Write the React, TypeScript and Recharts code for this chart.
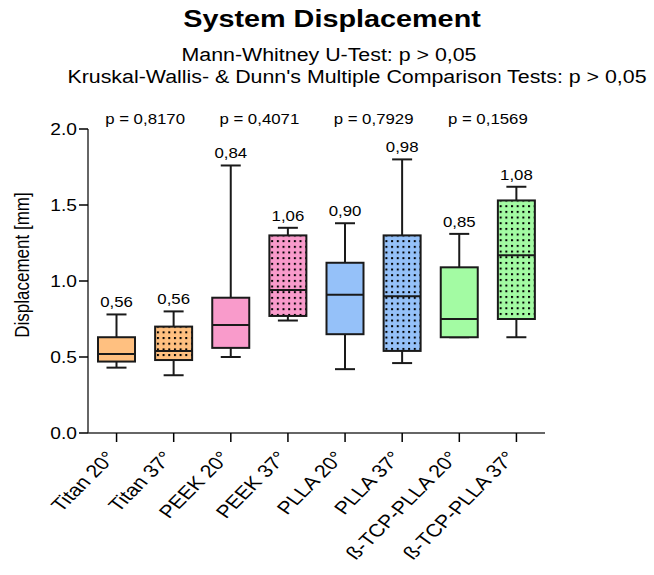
import { ComposedChart, Bar, XAxis, YAxis } from 'recharts'

// values
const categories = [
  'Titan 20°',
  'Titan 37°',
  'PEEK 20°',
  'PEEK 37°',
  'PLLA 20°',
  'PLLA 37°',
  'ß-TCP-PLLA 20°',
  'ß-TCP-PLLA 37°',
]
const whiskerLow = [0.43, 0.38, 0.5, 0.74, 0.42, 0.46, 0.63, 0.63]
const quartile1 = [0.47, 0.48, 0.56, 0.77, 0.65, 0.54, 0.63, 0.75]
const medians = [0.52, 0.54, 0.71, 0.94, 0.91, 0.9, 0.75, 1.17]
const quartile3 = [0.63, 0.7, 0.89, 1.3, 1.12, 1.3, 1.09, 1.53]
const whiskerHigh = [0.78, 0.8, 1.76, 1.35, 1.38, 1.8, 1.31, 1.62]
const meanLabels = ['0,56', '0,56', '0,84', '1,06', '0,90', '0,98', '0,85', '1,08']
const pValues = ['p = 0,8170', 'p = 0,4071', 'p = 0,7929', 'p = 0,1569']
const yTicks = [0, 0.5, 1, 1.5, 2]

const boxColors = ['#FFC080', '#FFC080', '#F99BCB', '#F99BCB', '#95C1F9', '#95C1F9', '#A3FBA3', '#A3FBA3']

const FONT = 'Arial, "Liberation Sans", Helvetica, sans-serif'
const SX = 1.2 // the reference is stretched horizontally
const CHART_W = 654
const CHART_H = 575
const MARGIN = { top: 129, right: 109, bottom: 0, left: 0 }
const Y_AXIS_W = 88
const BAND = (CHART_W - MARGIN.left - MARGIN.right - Y_AXIS_W) / categories.length
const INK = '#1a1a1a'

const data = categories.map((name, i) => ({
  name,
  low: whiskerLow[i],
  q1: quartile1[i],
  median: medians[i],
  q3: quartile3[i],
  high: whiskerHigh[i],
  mean: meanLabels[i],
  pLabel: i % 2 === 0 ? pValues[i / 2] : '',
  dotted: i % 2 === 1,
  color: boxColors[i],
}))

function SText({ x, y, size, anchor = 'middle', weight = 'normal', children }: any) {
  return (
    <text
      transform={`translate(${x},${y}) scale(${SX},1)`}
      textAnchor={anchor}
      fontSize={size}
      fontFamily={FONT}
      fontWeight={weight}
      fill="#000"
    >
      {children}
    </text>
  )
}

function BoxShape(props: any) {
  const { x, y, width, height, payload, index } = props
  const p = payload
  // range bar spans low..high, map any value inside the same scale
  const px = (v: number) => y + (height * (p.high - v)) / (p.high - p.low)
  const cx = x + width / 2
  const cap = 10
  const top = px(p.q3)
  const bottom = px(p.q1)
  const pid = `dots-${index}`
  return (
    <g>
      <line x1={cx} x2={cx} y1={px(p.high)} y2={top} stroke={INK} strokeWidth={2} />
      <line x1={cx} x2={cx} y1={bottom} y2={px(p.low)} stroke={INK} strokeWidth={2} />
      <line x1={cx - cap} x2={cx + cap} y1={px(p.high)} y2={px(p.high)} stroke={INK} strokeWidth={2} />
      <line x1={cx - cap} x2={cx + cap} y1={px(p.low)} y2={px(p.low)} stroke={INK} strokeWidth={2} />
      <rect x={x} y={top} width={width} height={bottom - top} fill={p.color} />
      {p.dotted && (
        <>
          <defs>
            <pattern id={pid} patternUnits="userSpaceOnUse" x={x + 1.8} y={top - 0.9} width={5.67} height={5.67}>
              <rect x={0} y={0} width={2} height={2} fill="#000" />
            </pattern>
          </defs>
          <rect x={x} y={top} width={width} height={bottom - top} fill={`url(#${pid})`} />
        </>
      )}
      <rect x={x} y={top} width={width} height={bottom - top} fill="none" stroke={INK} strokeWidth={2} />
      <line x1={x} x2={x + width} y1={px(p.median)} y2={px(p.median)} stroke={INK} strokeWidth={2} />
      <SText x={cx} y={px(p.high) - 7} size={14}>
        {p.mean}
      </SText>
      {p.pLabel && (
        <SText x={cx + BAND / 2} y={px(2) - 5} size={14}>
          {p.pLabel}
        </SText>
      )}
    </g>
  )
}

function XTick({ x, y, payload }: any) {
  return (
    <text
      transform={`translate(${x},${y + 14}) scale(${SX},1) rotate(-50)`}
      textAnchor="end"
      fontSize={18}
      fontFamily={FONT}
      fill="#000"
    >
      {payload.value}
    </text>
  )
}

function YTick({ x, y, payload }: any) {
  return (
    <SText x={x} y={y + 6} size={16} anchor="end">
      {Number(payload.value).toFixed(1)}
    </SText>
  )
}

function YLabel() {
  return (
    <text
      transform={`translate(29,265) scale(${SX},1) rotate(-90)`}
      textAnchor="middle"
      fontSize={17}
      fontFamily={FONT}
      fill="#000"
    >
      Displacement [mm]
    </text>
  )
}

export default function App() {
  return (
    <div style={{ position: 'absolute', left: 0, top: 0, width: CHART_W, height: CHART_H, background: '#fff' }}>
      <ComposedChart width={CHART_W} height={CHART_H} data={data} margin={MARGIN}>
        <XAxis
          dataKey="name"
          interval={0}
          height={142}
          tickSize={9}
          tick={<XTick />}
          axisLine={{ stroke: '#333', strokeWidth: 1.5 }}
          tickLine={{ stroke: '#000', strokeWidth: 1.5 }}
        />
        <YAxis
          type="number"
          domain={[0, 2]}
          ticks={yTicks}
          width={Y_AXIS_W}
          tickSize={9}
          tick={<YTick />}
          axisLine={{ stroke: '#333', strokeWidth: 1.5 }}
          tickLine={{ stroke: '#000', strokeWidth: 1.5 }}
          label={{ content: () => <YLabel /> }}
        />
        <Bar
          dataKey={(d: any) => [d.low, d.high]}
          barSize={37}
          shape={<BoxShape />}
          isAnimationActive={false}
        />
      </ComposedChart>
      <svg
        width={CHART_W}
        height={100}
        style={{ position: 'absolute', left: 0, top: 0, pointerEvents: 'none' }}
      >
        <SText x={332} y={27} size={24} weight="bold">
          System Displacement
        </SText>
        <SText x={329} y={61} size={17.8}>
          Mann-Whitney U-Test: p &gt; 0,05
        </SText>
        <SText x={357} y={83} size={17.8}>
          Kruskal-Wallis- &amp; Dunn's Multiple Comparison Tests: p &gt; 0,05
        </SText>
      </svg>
    </div>
  )
}
